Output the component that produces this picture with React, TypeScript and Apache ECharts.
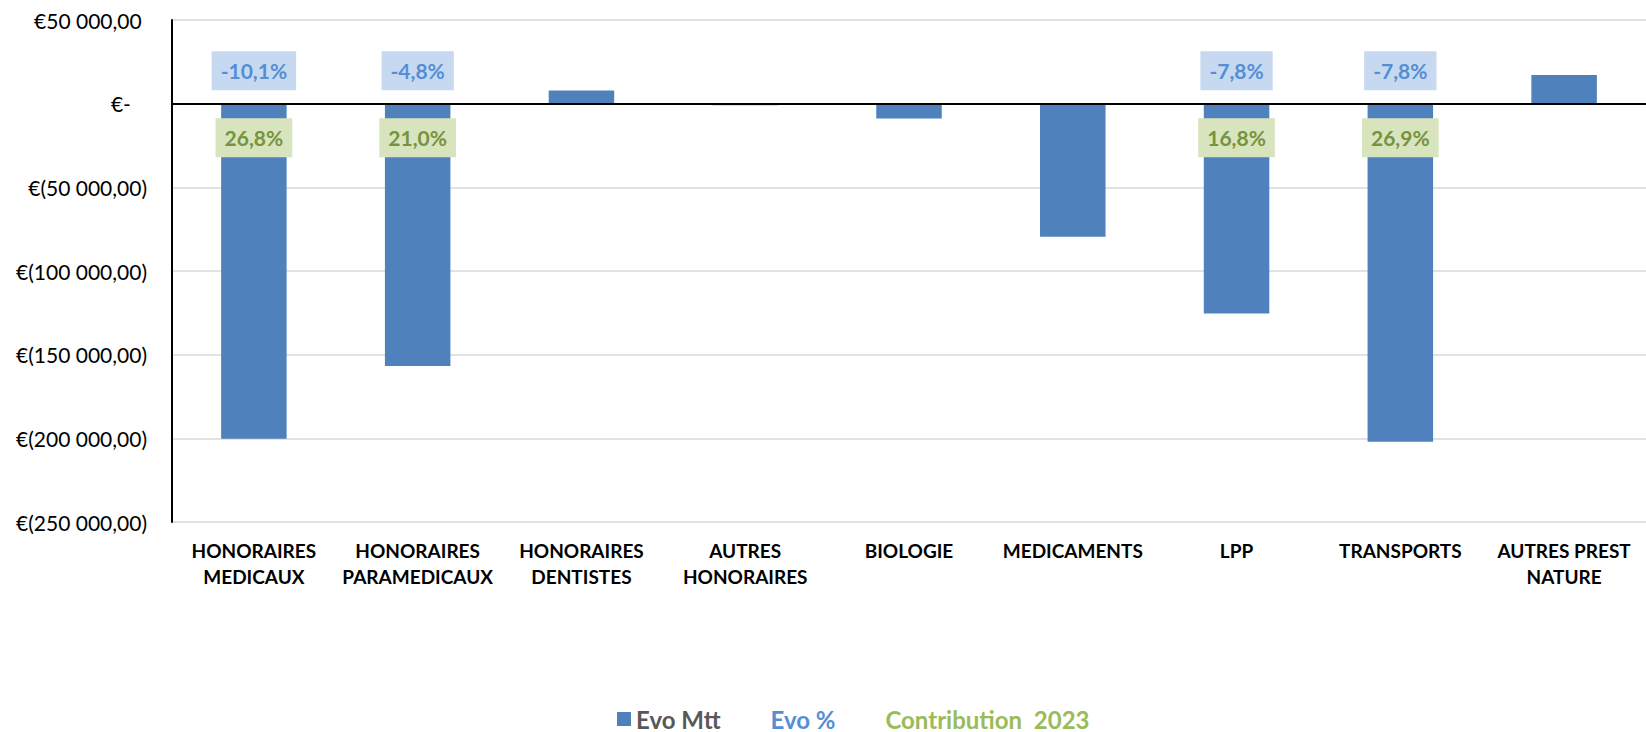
import React, { useEffect, useRef } from "react";
import * as echarts from "echarts";

const categories = [
  "HONORAIRES\nMEDICAUX",
  "HONORAIRES\nPARAMEDICAUX",
  "HONORAIRES\nDENTISTES",
  "AUTRES\nHONORAIRES",
  "BIOLOGIE",
  "MEDICAMENTS",
  "LPP",
  "TRANSPORTS",
  "AUTRES PREST\nNATURE",
];
const evoMtt = [-200200, -156800, 7800, -1000, -8800, -79600, -125400, -202000, 17200];
const evoPct: (string | null)[] = ["-10,1%", "-4,8%", null, null, null, null, "-7,8%", "-7,8%", null];
const contribution: (string | null)[] = ["26,8%", "21,0%", null, null, null, null, "16,8%", "26,9%", null];

const EVO_LABEL_Y = 19700;
const CONTRIB_LABEL_Y = -20300;

const FONT = "Lato, 'Open Sans', sans-serif";

function fmtNum(v: number): string {
  const s = Math.round(v).toString().replace(/\B(?=(\d{3})+(?!\d))/g, " ");
  return s + ",00";
}

export default function App() {
  const ref = useRef<HTMLDivElement>(null);
  useEffect(() => {
    if (!ref.current) return;
    const chart = echarts.init(ref.current, undefined, { renderer: "svg" });
    const labelPoints = (arr: (string | null)[], y: number) =>
      arr
        .map((t, i) => (t == null ? null : { name: t, value: [i, y] }))
        .filter((d) => d != null);
    chart.setOption({
      animation: false,
      textStyle: { fontFamily: FONT },
      grid: { left: 172, right: 0, top: 20, bottom: 210, containLabel: false },
      legend: {
        left: 617,
        top: 706,
        itemWidth: 14,
        itemHeight: 14,
        itemGap: 31,
        padding: 0,
        itemStyle: { borderWidth: 0 },
        textStyle: { fontSize: 24, fontWeight: "bold", fontFamily: FONT, lineHeight: 26 },
        data: [
          { name: "Evo Mtt", icon: "rect", textStyle: { color: "#595959" } },
          { name: "Evo %", icon: "rect", itemStyle: { color: "rgba(0,0,0,0)" }, textStyle: { color: "#558ed5" } },
          { name: "Contribution  2023", icon: "rect", itemStyle: { color: "rgba(0,0,0,0)" }, textStyle: { color: "#9bbb59" } },
        ],
      },
      xAxis: {
        type: "category",
        data: categories,
        axisLine: { show: false, onZero: false },
        axisTick: { show: false },
        axisLabel: {
          interval: 0,
          margin: 15,
          color: "#000",
          fontSize: 19,
          fontWeight: "bold",
          lineHeight: 26,
          fontFamily: FONT,
        },
      },
      yAxis: {
        type: "value",
        min: -250000,
        max: 50000,
        interval: 50000,
        axisLine: { show: true, lineStyle: { color: "#000", width: 2 } },
        axisTick: { show: false },
        splitLine: { show: true, lineStyle: { color: "#d9d9d9", width: 1.5 } },
        axisLabel: {
          margin: 25,
          color: "#000",
          fontSize: 21,
          fontFamily: FONT,
          formatter: (v: number) => {
            if (v === 0) return "€-\u00a0\u00a0\u00a0";
            if (v < 0) return "€(" + fmtNum(-v) + ")";
            return "€" + fmtNum(v) + "\u00a0";
          },
        },
      },
      series: [
        {
          name: "Evo Mtt",
          type: "bar",
          data: evoMtt,
          barWidth: "40%",
          itemStyle: { color: "#4f81bd" },
          emphasis: { disabled: true },
          markLine: {
            silent: true,
            symbol: "none",
            label: { show: false },
            lineStyle: { color: "#000", width: 2, type: "solid" },
            data: [{ yAxis: 0 }],
          },
          z: 2,
        },
        {
          name: "Evo %",
          type: "scatter",
          data: labelPoints(evoPct, EVO_LABEL_Y),
          symbolSize: 1,
          itemStyle: { color: "rgba(0,0,0,0)", opacity: 1 },
          emphasis: { disabled: true },
          z: 5,
          label: {
            show: true,
            position: "inside",
            formatter: "{b}",
            fontSize: 21,
            fontWeight: "bold",
            fontFamily: FONT,
            color: "#558ed5",
            backgroundColor: "#c6d9f1",
            padding: [9, 9],
            lineHeight: 21,
          },
        },
        {
          name: "Contribution  2023",
          type: "scatter",
          data: labelPoints(contribution, CONTRIB_LABEL_Y),
          symbolSize: 1,
          itemStyle: { color: "rgba(0,0,0,0)", opacity: 1 },
          emphasis: { disabled: true },
          z: 5,
          label: {
            show: true,
            position: "inside",
            formatter: "{b}",
            fontSize: 21,
            fontWeight: "bold",
            fontFamily: FONT,
            color: "#77933c",
            backgroundColor: "#d7e4bd",
            padding: [9, 9],
            lineHeight: 21,
          },
        },
      ],
    });
    return () => chart.dispose();
  }, []);
  return (
    <div
      ref={ref}
      style={{ position: "fixed", left: 0, top: 0, width: 1646, height: 732, background: "#fff" }}
    />
  );
}
